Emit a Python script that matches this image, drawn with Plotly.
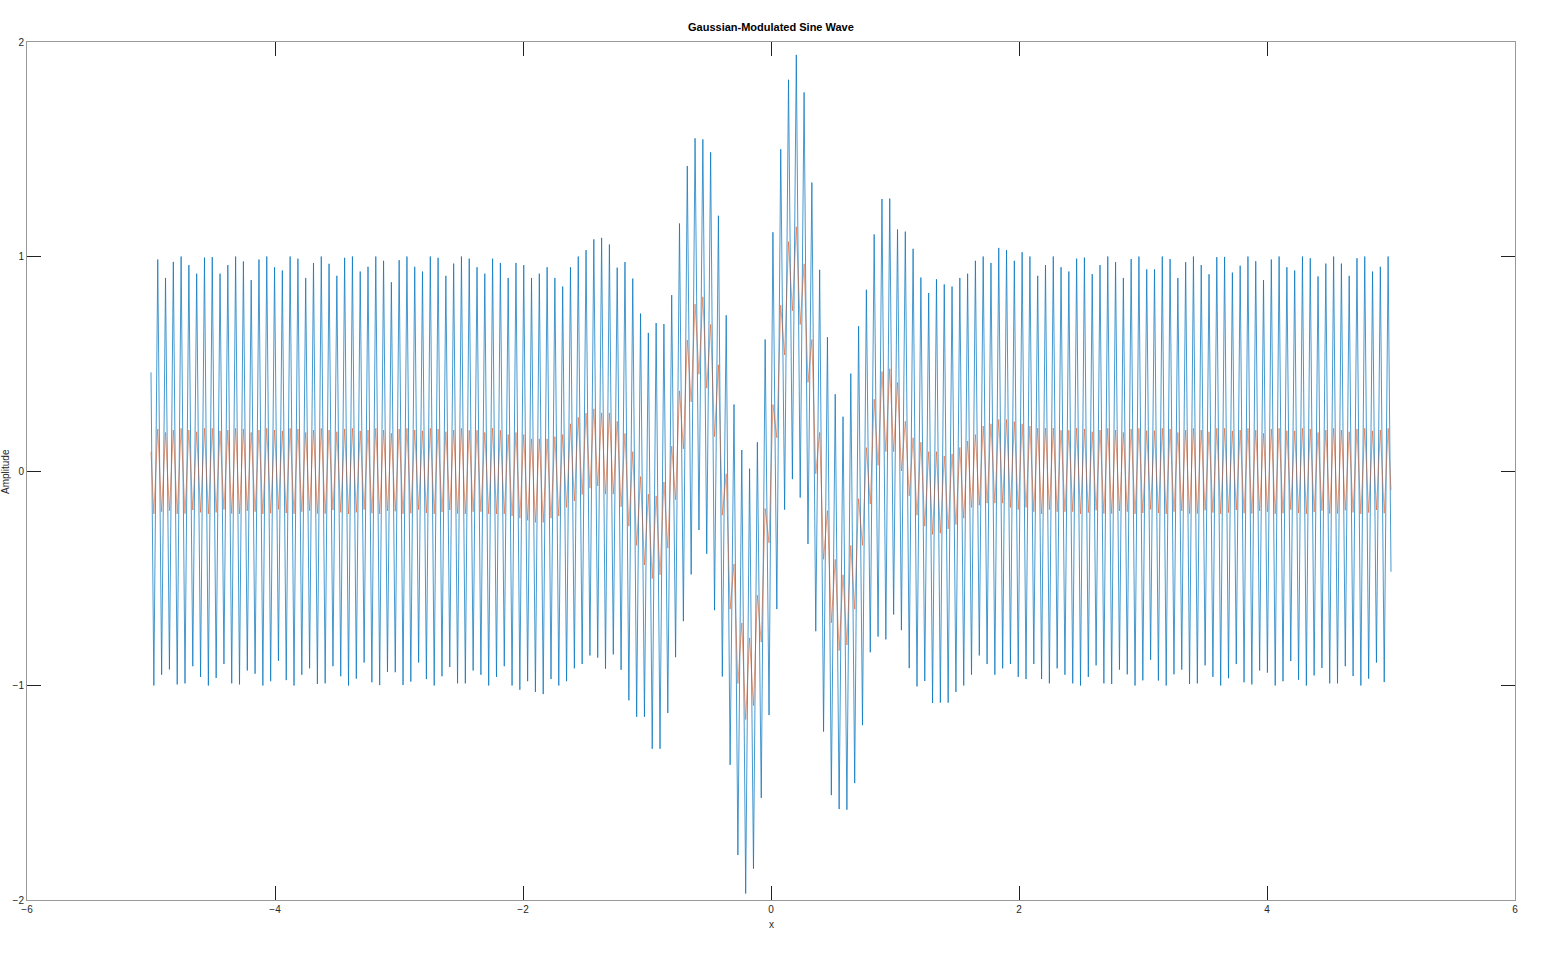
import plotly.graph_objects as go

# ---------------- data ----------------
# Each series is drawn through its alternating troughs and peaks of the fast
# oscillation (trough n, peak n, trough n+1, ...), n = -79 .. 79.
x_start, x_end = -5.0, 5.0
first_extreme_x = -4.977     # x of the first trough
half_period = 0.0314         # spacing between successive trough/peak

blue_start, blue_end = 0.46, -0.47
red_start, red_end = 0.09, -0.09

# ---- blue series ----
blue_peaks_left = [0.986, 0.90, 0.975, 1.0, 0.96, 0.92, 0.995, 0.997, 0.92, 0.96,
                   1.0, 0.977, 0.89, 0.986, 1.0, 0.95, 0.935, 1.0, 0.99, 0.90,
                   0.97, 1.0, 0.966, 0.91, 0.994, 1.0, 0.93, 0.952, 1.0, 0.98,
                   0.88, 0.983, 1.0, 0.952, 0.93, 1.0, 0.994, 0.91, 0.967, 1.0]
blue_peaks_midleft = [0.99, 0.95, 0.92, 0.99, 0.97, 0.90, 0.97, 0.96, 0.90, 0.92,
                      0.95, 0.90, 0.86, 0.95, 1.0, 1.03, 1.08]
blue_peaks_center = [1.087, 1.056, 0.948, 0.974, 0.897, 0.734, 0.644, 0.69, 0.685, 0.82,
                     1.154, 1.422, 1.551, 1.546, 1.486, 1.19, 0.726, 0.31, 0.098, 0.011,
                     0.134, 0.613, 1.113, 1.50, 1.824, 1.94, 1.765, 1.345, 0.938, 0.624,
                     0.358, 0.253, 0.454, 0.675, 0.845, 1.103, 1.268, 1.27, 1.126, 1.116,
                     1.036, 0.902, 0.83, 0.894]
blue_peaks_midright = [0.87, 0.86, 0.90, 0.92, 0.98, 1.0, 0.97, 1.04, 1.03, 0.98,
                       1.02, 1.0, 0.91, 0.96, 1.0, 0.95, 0.93, 0.99]
blue_peaks_right = [0.995, 0.918, 0.96, 1.0, 0.974, 0.90, 0.988, 1.0, 0.94, 0.94,
                    1.0, 0.988, 0.90, 0.974, 1.0, 0.96, 0.917, 0.997, 0.998, 0.925,
                    0.957, 1.0, 0.978, 0.89, 0.986, 1.0, 0.95, 0.935, 1.0, 0.992,
                    0.907, 0.967, 1.0, 0.967, 0.91, 0.992, 1.0, 0.93, 0.952, 1.0]

blue_troughs_left = [-1.0, -0.95, -0.925, -0.995, -0.99, -0.91, -0.96, -1.0, -0.965, -0.90,
                     -0.99, -0.995, -0.93, -0.945, -1.0, -0.98, -0.885, -0.975, -1.0, -0.95,
                     -0.92, -0.993, -0.99, -0.91, -0.957, -1.0, -0.968, -0.893, -0.985, -0.998,
                     -0.937, -0.938, -0.998, -0.982, -0.893, -0.97, -1.0, -0.957, -0.914, -0.99]
blue_troughs_midleft = [-0.99, -0.93, -0.95, -1.0, -0.96, -0.91, -1.0, -1.02, -0.98, -1.03,
                        -1.04, -0.97, -1.0, -0.98, -0.92, -0.90, -0.86, -0.87]
blue_troughs_center = [-0.922, -0.855, -0.927, -1.069, -1.146, -1.146, -1.295, -1.295, -1.128, -0.868,
                       -0.70, -0.482, -0.275, -0.386, -0.649, -0.958, -1.370, -1.79, -1.97, -1.854,
                       -1.524, -1.138, -0.644, -0.18, -0.038, -0.124, -0.34, -0.747, -1.215, -1.511,
                       -1.576, -1.579, -1.455, -1.185, -0.845, -0.772, -0.785, -0.669, -0.742, -0.919,
                       -1.004, -0.979, -1.082]
blue_troughs_midright = [-1.08, -1.08, -1.03, -1.0, -0.95, -0.86, -0.90, -0.95, -0.92, -0.90,
                         -0.96, -0.97, -0.90, -0.97, -0.99, -0.92, -0.95, -0.99]
blue_troughs_right = [-1.0, -0.96, -0.906, -0.99, -0.993, -0.926, -0.948, -1.0, -0.976, -0.88,
                      -0.977, -1.0, -0.948, -0.926, -0.993, -0.99, -0.906, -0.96, -1.0, -0.966,
                      -0.90, -0.985, -0.995, -0.93, -0.94, -1.0, -0.98, -0.886, -0.973, -1.0,
                      -0.953, -0.918, -0.99, -0.99, -0.91, -0.956, -1.0, -0.968, -0.893, -0.984]

# ---- red series ----
red_peaks_left = [0.196, 0.180, 0.191, 0.199, 0.191, 0.183, 0.199, 0.199, 0.187, 0.191,
                  0.199, 0.196, 0.180, 0.191, 0.199, 0.191, 0.187, 0.199, 0.196, 0.180,
                  0.191, 0.199, 0.191, 0.183, 0.196, 0.199, 0.187, 0.191, 0.199, 0.191,
                  0.176, 0.196, 0.199, 0.191, 0.187, 0.199, 0.196, 0.183, 0.191, 0.199]
red_peaks_midleft = [0.19, 0.19, 0.18, 0.2, 0.19, 0.17, 0.18, 0.17, 0.15, 0.15,
                     0.15, 0.16, 0.17, 0.22, 0.25, 0.27, 0.29]
red_peaks_center = [0.271, 0.271, 0.232, 0.175, 0.090, -0.026, -0.108, -0.116, -0.051, 0.116,
                    0.374, 0.611, 0.778, 0.812, 0.683, 0.495, -0.013, -0.433, -0.708, -0.778,
                    -0.579, -0.175, 0.31, 0.773, 1.069, 1.139, 0.966, 0.613, 0.18, -0.185,
                    -0.412, -0.484, -0.347, -0.129, 0.109, 0.335, 0.464, 0.477, 0.413, 0.232,
                    0.155, 0.134, 0.09, 0.09]
red_peaks_midright = [0.07, 0.08, 0.11, 0.14, 0.17, 0.21, 0.22, 0.24, 0.24, 0.23,
                      0.22, 0.21, 0.2, 0.2, 0.2, 0.19, 0.19, 0.2]
red_peaks_right = [0.196, 0.183, 0.191, 0.199, 0.191, 0.180, 0.196, 0.199, 0.188, 0.188,
                   0.199, 0.196, 0.180, 0.191, 0.199, 0.191, 0.183, 0.199, 0.199, 0.187,
                   0.191, 0.199, 0.191, 0.176, 0.196, 0.199, 0.188, 0.187, 0.199, 0.196,
                   0.180, 0.191, 0.199, 0.191, 0.183, 0.196, 0.199, 0.187, 0.191, 0.199]

red_troughs_left = [-0.2, -0.19, -0.185, -0.2, -0.199, -0.182, -0.193, -0.2, -0.193, -0.18,
                    -0.199, -0.2, -0.186, -0.19, -0.2, -0.197, -0.179, -0.196, -0.2, -0.19,
                    -0.185, -0.199, -0.199, -0.182, -0.193, -0.2, -0.193, -0.18, -0.197, -0.2,
                    -0.186, -0.188, -0.2, -0.197, -0.18, -0.196, -0.2, -0.191, -0.182, -0.199]
red_troughs_midleft = [-0.2, -0.19, -0.19, -0.2, -0.2, -0.2, -0.21, -0.22, -0.23, -0.24,
                       -0.24, -0.22, -0.21, -0.17, -0.14, -0.11, -0.08, -0.07]
red_troughs_center = [-0.108, -0.108, -0.167, -0.257, -0.347, -0.438, -0.502, -0.484, -0.36, -0.134,
                      0.103, 0.322, 0.451, 0.386, 0.16, -0.206, -0.644, -0.991, -1.159, -1.094,
                      -0.798, -0.335, 0.155, 0.541, 0.747, 0.683, 0.413, -0.013, -0.412, -0.708,
                      -0.837, -0.811, -0.644, -0.347, -0.154, 0.026, 0.09, 0.09, 0.0, -0.116,
                      -0.206, -0.257, -0.296]
red_troughs_midright = [-0.29, -0.27, -0.25, -0.22, -0.17, -0.16, -0.15, -0.15, -0.15, -0.17,
                        -0.18, -0.17, -0.19, -0.2, -0.18, -0.19, -0.19, -0.19]
red_troughs_right = [-0.2, -0.194, -0.183, -0.199, -0.199, -0.186, -0.19, -0.2, -0.196, -0.179,
                     -0.196, -0.2, -0.19, -0.186, -0.199, -0.199, -0.183, -0.194, -0.2, -0.194,
                     -0.182, -0.197, -0.199, -0.186, -0.19, -0.2, -0.197, -0.18, -0.196, -0.2,
                     -0.191, -0.185, -0.199, -0.199, -0.183, -0.193, -0.2, -0.194, -0.182, -0.197]

x_ticks = [-6, -4, -2, 0, 2, 4, 6]
y_ticks = [-2, -1, 0, 1, 2]
title_text = "Gaussian-Modulated Sine Wave"
x_label = "x"
y_label = "Amplitude"

# ---------------- build the series ----------------
def build(peaks, troughs, start, end):
    assert len(peaks) == len(troughs)
    ys = [start]
    for t, p in zip(troughs, peaks):
        ys.append(t)
        ys.append(p)
    ys.append(end)
    n_ext = 2 * len(peaks)
    xs = [x_start] + [first_extreme_x + half_period * i for i in range(n_ext)] + [x_end]
    return xs, ys

blue_peaks = blue_peaks_left + blue_peaks_midleft + blue_peaks_center + blue_peaks_midright + blue_peaks_right
blue_troughs = blue_troughs_left + blue_troughs_midleft + blue_troughs_center + blue_troughs_midright + blue_troughs_right
red_peaks = red_peaks_left + red_peaks_midleft + red_peaks_center + red_peaks_midright + red_peaks_right
red_troughs = red_troughs_left + red_troughs_midleft + red_troughs_center + red_troughs_midright + red_troughs_right

bx, by = build(blue_peaks, blue_troughs, blue_start, blue_end)
rx, ry = build(red_peaks, red_troughs, red_start, red_end)

fig = go.Figure()
fig.add_trace(go.Scatter(x=bx, y=by, mode="lines",
                         line=dict(color="rgba(0,114,189,0.72)", width=1), hoverinfo="skip"))
fig.add_trace(go.Scatter(x=rx, y=ry, mode="lines",
                         line=dict(color="rgba(217,83,25,0.55)", width=1), hoverinfo="skip"))

font_family = "Liberation Sans, Arial, Helvetica, sans-serif"
axis_common = dict(
    ticks="inside", ticklen=14, tickwidth=1, tickcolor="#222",
    showline=True, linecolor="#999", linewidth=1, mirror="ticks",
    showgrid=False, zeroline=False,
    tickfont=dict(family=font_family, size=10, color="#262626"),
)
fig.update_layout(
    width=1559, height=972,
    margin=dict(l=27, r=44, t=42, b=72),
    plot_bgcolor="white", paper_bgcolor="white",
    showlegend=False,
    font=dict(family=font_family, size=10, color="#262626"),
    xaxis=dict(range=[-6, 6], tickvals=x_ticks, **axis_common),
    yaxis=dict(range=[-2, 2], tickvals=y_ticks, **axis_common),
    annotations=[
        dict(text="<b>" + title_text + "</b>", xref="paper", yref="paper",
             x=0.5, y=1.0175, xanchor="center", yanchor="middle", showarrow=False,
             font=dict(family=font_family, size=11, color="#000")),
        dict(text=x_label, xref="paper", yref="paper",
             x=0.5, y=-0.029, xanchor="center", yanchor="middle", showarrow=False,
             font=dict(family=font_family, size=10, color="#262626")),
        dict(text=y_label, xref="paper", yref="paper", textangle=-90,
             x=-0.0148, y=0.5, xanchor="center", yanchor="middle", showarrow=False,
             font=dict(family=font_family, size=10, color="#262626")),
    ],
)

fig.write_html("out.html", config={"displayModeBar": False},
               post_script="document.body.style.margin='0';")
